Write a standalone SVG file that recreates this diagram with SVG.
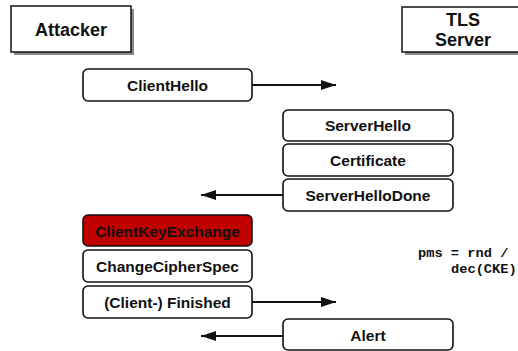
<svg xmlns="http://www.w3.org/2000/svg" width="518" height="351" viewBox="0 0 518 351">
<defs>
<style>
.hdr{fill:#fff;stroke:#111;stroke-width:1.5}
.shd{fill:#8a8a8a}
.msg{fill:#fff;stroke:#111;stroke-width:1.6}
.red{fill:#c00000;stroke:#111;stroke-width:1.6}
.ht{font-family:"Liberation Sans",Arial,sans-serif;font-weight:bold;font-size:18px;text-anchor:middle;fill:#111}
.mt{font-family:"Liberation Sans",Arial,sans-serif;font-weight:bold;font-size:15.5px;text-anchor:middle;fill:#111}
.code{font-family:"Liberation Mono","Courier New",monospace;font-weight:bold;font-size:13.7px;fill:#111}
.ln{stroke:#111;stroke-width:2;fill:none}
</style>
<marker id="ah" markerWidth="15" markerHeight="10" refX="15" refY="5" orient="auto" markerUnits="userSpaceOnUse">
<path d="M0,0 L15,5 L0,10 Z" fill="#111"/>
</marker>
</defs>
<rect width="518" height="351" fill="#fff"/>
<g id="attacker">
<rect class="shd" x="14" y="9" width="120" height="46"/>
<rect class="hdr" x="11" y="6" width="120" height="46"/>
<text class="ht" x="71" y="36">Attacker</text>
</g>
<g id="server">
<rect class="shd" x="405" y="10" width="120" height="45"/>
<rect class="hdr" x="402" y="7" width="120" height="45"/>
<text class="ht" x="463" y="26">TLS</text>
<text class="ht" x="463" y="46">Server</text>
</g>
<g id="connectors">
<line class="ln" x1="252" y1="85" x2="336" y2="85" marker-end="url(#ah)"/>
<line class="ln" x1="283" y1="195" x2="201" y2="195" marker-end="url(#ah)"/>
<line class="ln" x1="252" y1="302" x2="336" y2="302" marker-end="url(#ah)"/>
<line class="ln" x1="283" y1="336" x2="201" y2="336" marker-end="url(#ah)"/>
</g>
<g id="clienthello">
<rect class="msg" x="83" y="69" width="169" height="32" rx="5"/>
<text class="mt" x="167.5" y="91">ClientHello</text>
</g>
<g id="serverhello">
<rect class="msg" x="283" y="110" width="170" height="31" rx="5"/>
<text class="mt" x="368" y="131">ServerHello</text>
</g>
<g id="certificate">
<rect class="msg" x="283" y="144" width="170" height="32" rx="5"/>
<text class="mt" x="368" y="165.5">Certificate</text>
</g>
<g id="serverhellodone">
<rect class="msg" x="283" y="179" width="170" height="32" rx="5"/>
<text class="mt" x="368" y="200.5">ServerHelloDone</text>
</g>
<g id="clientkeyexchange">
<rect class="red" x="83" y="215" width="169" height="31" rx="5"/>
<text class="mt" x="167.5" y="236.5">ClientKeyExchange</text>
</g>
<g id="changecipherspec">
<rect class="msg" x="83" y="250" width="169" height="32" rx="5"/>
<text class="mt" x="167.5" y="271.5">ChangeCipherSpec</text>
</g>
<g id="finished">
<rect class="msg" x="83" y="286" width="169" height="32" rx="5"/>
<text class="mt" x="167.5" y="307.5">(Client-) Finished</text>
</g>
<g id="alert">
<rect class="msg" x="283" y="319" width="170" height="31" rx="5"/>
<text class="mt" x="368" y="341">Alert</text>
</g>
<g id="pms">
<text class="code" x="418" y="257" xml:space="preserve">pms = rnd /</text>
<text class="code" x="451" y="273">dec(CKE)</text>
</g>
</svg>
